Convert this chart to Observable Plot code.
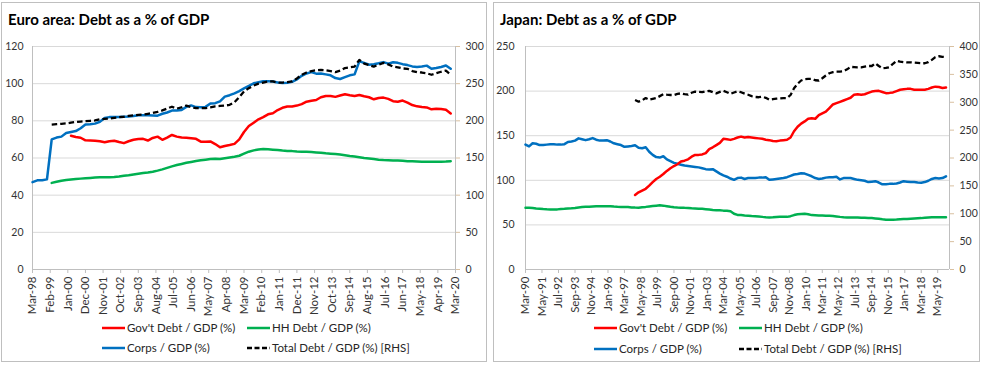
<!DOCTYPE html>
<html><head><meta charset="utf-8">
<script src="https://cdn.jsdelivr.net/npm/d3@7"></script>
<script src="https://cdn.jsdelivr.net/npm/@observablehq/plot@0.6"></script>
<style>
body{margin:0;background:#fff;}
#root{position:relative;width:988px;height:367px;font-family:Lato,"Open Sans",sans-serif;overflow:hidden;background:#fff}
.panel{position:absolute;border:1px solid #bfbfbf;box-sizing:border-box;}
.title{position:absolute;font-weight:bold;font-size:15px;line-height:15px;color:#000;white-space:nowrap}
.leg{position:absolute;font-size:11.5px;line-height:12px;color:#262626;display:flex;align-items:center;white-space:nowrap}
.leg svg{margin-right:2px}
</style></head><body><div id="root"></div><script>
// ---------------- Euro area (quarterly) ----------------
const euroTickLabels = ["Mar-98","Feb-99","Jan-00","Dec-00","Nov-01","Oct-02","Sep-03","Aug-04","Jul-05","Jun-06","May-07","Apr-08","Mar-09","Feb-10","Jan-11","Dec-11","Nov-12","Oct-13","Sep-14","Aug-15","Jul-16","Jun-17","May-18","Apr-19","Mar-20"];
const euroCorpsStart = "Mar-98";
const euroCorps = [
 47, 48, 48, 48.5, 70, 71, 71.5, 73.5, 74, 74.5,
 76, 78, 78.2, 78.5, 79.5, 81.5, 82, 82, 82, 82.2,
 82.3, 82.6, 83, 83, 83, 82.9, 82.8, 83.8, 84.5, 85.5,
 85.5, 85.8, 87.5, 88.3, 87.4, 87.3, 87.5, 89.3, 89.5, 90.5,
 93, 93.8, 94.8, 96, 97.5, 98.8, 100.2, 100.8, 101.3, 101.3,
 101.2, 100.6, 100.3, 100.5, 101, 102.3, 104.2, 105.5, 106.2, 105.4,
 105.5, 105, 104.5, 103, 102.5, 103.5, 104.5, 105, 112, 111.2,
 110.2, 110.5, 111, 111.6, 110.8, 111.5, 111.2, 110.5, 110, 109.3,
 109, 109.2, 109.7, 108, 108.4, 109, 109.8, 108];
const euroHHStart = "Mar-99";
const euroHH = [
 46.6, 47.2, 47.8, 48.1, 48.4, 48.7, 48.9, 49.1, 49.3, 49.5,
 49.6, 49.6, 49.7, 49.8, 50.1, 50.5, 50.7, 51.1, 51.5, 51.9,
 52.2, 52.6, 53.2, 53.9, 54.7, 55.5, 56.2, 56.8, 57.4, 57.9,
 58.4, 58.8, 59.1, 59.4, 59.6, 59.5, 59.9, 60.3, 60.7, 61.2,
 62.3, 63.4, 64.1, 64.6, 64.8, 64.7, 64.5, 64.3, 64, 63.8,
 63.7, 63.5, 63.4, 63.3, 63.2, 63, 62.8, 62.5, 62.3, 62.1,
 61.9, 61.5, 61.1, 60.8, 60.4, 60, 59.7, 59.4, 59.1, 58.9,
 58.8, 58.7, 58.6, 58.5, 58.3, 58.2, 58.1, 58, 58, 58,
 58, 58, 58.1, 58.3];
const euroGovStart = "Mar-00";
const euroGov = [
 72, 71.3, 70.9, 69.5, 69.4, 69.3, 69, 68.5, 69, 69.3,
 68.6, 68, 69, 69.8, 70.2, 70.3, 69.4, 70.8, 71.5, 69.8,
 71, 72.4, 71.5, 71, 70.9, 70.6, 70.3, 68.8, 68.7, 68.9,
 67.5, 65.8, 66.5, 67, 67.6, 70, 74, 77.2, 79, 80.8,
 82, 83.5, 84.1, 85.8, 87, 87.7, 87.7, 88.2, 89, 90.3,
 90.8, 91.2, 92.7, 93.4, 93.4, 92.9, 93.6, 94.3, 93.8, 93.4,
 93.9, 93.2, 92.7, 91.6, 92.3, 92.5, 91.8, 90.6, 90.3, 90.9,
 89.8, 88.5, 87.8, 87.4, 87.2, 86.2, 86.5, 86.4, 86, 84];
const euroTotalStart = "Mar-99";
const euroTotal = [
 195, 195.5, 196, 196.5, 197.5, 198.5, 199, 199.5, 200, 200.5,
 202, 202.5, 203, 204, 205, 205.5, 206.7, 207.5, 208, 208.5,
 209.5, 210.5, 212, 214, 216.5, 219, 216.5, 218, 220.5, 218.5,
 217, 217, 217, 218, 219.5, 220, 220.5, 221.5, 225, 232,
 239.5, 244, 247.5, 250, 251.5, 253, 253, 251.5, 251.5, 252,
 253, 257, 262, 265, 267, 268, 268.5, 268, 267, 265.5,
 267.5, 271, 272, 273, 282, 277, 275, 273, 275.5, 278,
 276, 273, 272, 270.5, 270, 267, 265.5, 265, 264, 262,
 264, 266, 267.5, 262];
const euroLeftTicks = [0, 20, 40, 60, 80, 100, 120];
const euroRightTicks = [0, 50, 100, 150, 200, 250, 300];

// ---------------- Japan (quarterly) ----------------
const japanTickLabels = ["Mar-90","May-91","Jul-92","Sep-93","Nov-94","Jan-96","Mar-97","May-98","Jul-99","Sep-00","Nov-01","Jan-03","Mar-04","May-05","Jul-06","Sep-07","Nov-08","Jan-10","Mar-11","May-12","Jul-13","Sep-14","Nov-15","Jan-17","Mar-18","May-19"];
const japanCorpsStart = "Mar-90";
const japanCorps = [
 140, 138, 141.5, 141, 139.5, 139.5, 140, 140.5, 140.5, 140,
 140, 140.5, 143, 143.5, 144.5, 147, 146, 145, 146, 147.3,
 145.5, 144.5, 144.5, 145, 143.5, 141.5, 140.5, 139.5, 137.5, 138,
 138.5, 139.3, 136.5, 136, 137, 132, 128.5, 126, 125.5, 127,
 123.5, 121.5, 119.5, 118.5, 117.5, 116.5, 116, 115.5, 115, 114.5,
 113.5, 112.5, 112, 112.5, 110, 107.5, 105.5, 104, 102, 100.5,
 102.5, 103, 101.5, 102.5, 102.5, 102.5, 103, 103, 103.5, 100.5,
 101, 101.5, 102, 102.5, 103.5, 105, 106.5, 107, 108, 107.5,
 106, 104.5, 102.5, 101.5, 102, 103, 103.5, 103.5, 104, 101,
 102.5, 102.5, 102.5, 101.5, 100.5, 100, 99.5, 98, 98.5, 99,
 97.5, 95.5, 95.5, 96, 96, 96.5, 97.5, 99, 98.5, 98,
 98, 97.5, 97.3, 98, 99.5, 101.5, 102.5, 102, 102.5, 104.5];
const japanHHStart = "Mar-90";
const japanHH = [
 69.3, 69.2, 69, 68.5, 68.2, 67.8, 67.5, 67.3, 67.2, 67.4,
 67.8, 68, 68.3, 68.6, 69, 69.6, 70, 70.4, 70.4, 70.6,
 70.8, 71, 71, 71, 70.8, 70.5, 70.3, 70.2, 70, 70,
 69.6, 69.4, 69.3, 69.8, 70.2, 70.7, 71.2, 71.6, 72, 71.6,
 71, 70.3, 69.8, 69.5, 69.3, 69.1, 69, 68.6, 68.4, 68.2,
 68, 67.6, 67.2, 66.8, 66.5, 66.3, 66, 65.8, 65.2, 62.5,
 61.2, 61, 60.6, 60.3, 60, 59.8, 59.5, 59, 58.6, 58.3,
 58.5, 58.8, 59, 59, 59, 59.8, 61, 61.9, 62.3, 62.6,
 62, 61, 60.8, 60.6, 60.5, 60.3, 60.2, 60, 59.5, 59,
 58.6, 58.3, 58.3, 58.3, 58.2, 58, 58, 57.8, 57.6, 57.3,
 56.8, 56.3, 55.9, 55.8, 55.8, 56, 56.3, 56.5, 56.7, 57,
 57.2, 57.4, 57.6, 58, 58.3, 58.5, 58.6, 58.6, 58.6, 58.6];
const japanGovStart = "Dec-97";
const japanGov = [
 83.5, 86.5, 88.5, 90.5, 94, 98, 101.5, 104, 107, 110.5,
 113.5, 116, 118, 121, 122, 123.5, 126.5, 128.5, 128.5, 129,
 130.5, 135, 137, 139.5, 142, 146.5, 146, 145.3, 146.5, 148,
 149, 148, 148.5, 148, 147.5, 147, 146.5, 145.5, 145, 144,
 143.8, 144.5, 145, 145.5, 148, 155, 160, 163.5, 166, 169,
 169.5, 169, 173, 175, 177, 181, 185, 186.5, 188, 189.5,
 191, 192.5, 196, 196.5, 196, 196.5, 198, 199.5, 200, 200.3,
 199, 197.7, 198, 198.5, 200, 201.5, 202, 202.5, 202.5, 201.5,
 201.5, 201.5, 201.5, 202.5, 204, 205, 204.5, 203.5, 204];
const japanTotalStart = "Dec-97";
const japanTotal = [
 304, 301, 303.5, 307.5, 304.5, 306, 307.5, 311, 314.5, 313.5,
 313, 313, 315, 316, 314.5, 313.5, 317, 319, 318.5, 318,
 319.5, 320.5, 318, 316, 318.5, 320.5, 318, 315, 317.5, 319.5,
 318, 315.5, 313.5, 311, 309.5, 309, 310, 308, 304.5, 305.5,
 306.5, 307, 307.5, 307.5, 313, 325, 333, 339, 341.5, 342,
 342, 339.5, 339, 343, 348, 352, 354, 355, 355, 355.5,
 359, 363.5, 363, 362.5, 362.5, 364, 365, 365, 370, 365,
 361, 361.5, 363, 369, 374.5, 373, 372, 371.5, 371.5, 371,
 370.5, 370, 370, 372, 376, 381, 382.5, 381.5, 381];
const japanLeftTicks = [0, 50, 100, 150, 200, 250];
const japanRightTicks = [0, 50, 100, 150, 200, 250, 300, 350, 400];

const legendNames = ["Gov't Debt / GDP (%)", "HH Debt / GDP (%)", "Corps / GDP (%)", "Total Debt / GDP (%) [RHS]"];
const colors = {gov: "#ff0000", hh: "#00b050", corps: "#0070c0", total: "#000000"};

// ---------------- helpers ----------------
const parse = d3.utcParse("%b-%y");
const fmt = d3.utcFormat("%b-%y");
function quarterly(start, values) {
  const s = parse(start);
  return values.map((v, i) => ({date: d3.utcMonth.offset(s, 3 * i), value: v}));
}

function panelPlot(cfg) {
  const f = cfg.leftMax / cfg.rightMax;
  const grid = cfg.leftTicks.filter(d => d > 0);
  const tickDates = cfg.tickLabels.map(parse);
  return Plot.plot({
    width: cfg.width, height: cfg.height,
    marginLeft: cfg.mL, marginRight: cfg.mR, marginTop: cfg.mT, marginBottom: cfg.height - 269,
    x: {type: "utc", domain: cfg.xDomain.map(parse)},
    y: {domain: [0, cfg.leftMax]},
    style: {fontFamily: "Lato, 'Open Sans', sans-serif", color: "#333333", background: "transparent", overflow: "visible"},
    marks: [
      Plot.ruleY(grid, {stroke: "#d9d9d9", strokeWidth: 1}),
      Plot.ruleY([0], {stroke: "#bfbfbf", strokeWidth: 1}),
      Plot.ruleX([parse(cfg.xDomain[0])], {stroke: "#bfbfbf", strokeWidth: 1}),
      Plot.ruleX([parse(cfg.xDomain[1])], {stroke: "#bfbfbf", strokeWidth: 1}),
      Plot.axisY(cfg.leftTicks, {anchor: "left", tickSize: 0, tickPadding: cfg.padL, fontSize: 10.5, label: null, tickFormat: d => d}),
      Plot.axisY(cfg.rightTicks.map(t => t * f), {anchor: "right", tickSize: 4, tickPadding: 6, stroke: "#d9c0a0", fontSize: 10.5, label: null, tickFormat: p => Math.round(p / f)}),
      Plot.axisX(tickDates, {tickFormat: fmt, tickRotate: -90, tickSize: 4, tickPadding: 3, stroke: "#bfbfbf", fontSize: 11.5, label: null}),
      Plot.line(quarterly(cfg.hhStart, cfg.hh), {x: "date", y: "value", stroke: colors.hh, strokeWidth: 2.5}),
      Plot.line(quarterly(cfg.corpsStart, cfg.corps), {x: "date", y: "value", stroke: colors.corps, strokeWidth: 2.5}),
      Plot.line(quarterly(cfg.govStart, cfg.gov), {x: "date", y: "value", stroke: colors.gov, strokeWidth: 2.5}),
      Plot.line(quarterly(cfg.totalStart, cfg.total), {x: "date", y: d => d.value * f, stroke: colors.total, strokeWidth: 2.3, strokeDasharray: "5.5,3", strokeLinecap: "butt"})
    ]
  });
}

const root = document.getElementById("root");
function addDiv(cls, css, html) {
  const d = document.createElement("div");
  d.className = cls; Object.assign(d.style, css); if (html != null) d.innerHTML = html;
  root.appendChild(d); return d;
}
function sample(color, dashed) {
  return `<svg width="23" height="4"><line x1="0" x2="23" y1="2" y2="2" stroke="${color}" stroke-width="2.5" ${dashed ? 'stroke-dasharray="5,2.5"' : ''}/></svg>`;
}
function legend(x1, x2, y1, y2) {
  addDiv("leg", {left: x1 + "px", top: (y1 - 6) + "px"}, sample(colors.gov) + legendNames[0]);
  addDiv("leg", {left: x2 + "px", top: (y1 - 6) + "px"}, sample(colors.hh) + legendNames[1]);
  addDiv("leg", {left: x1 + "px", top: (y2 - 6) + "px"}, sample(colors.corps) + legendNames[2]);
  addDiv("leg", {left: x2 + "px", top: (y2 - 6) + "px"}, sample(colors.total, true) + legendNames[3]);
}

// panels
addDiv("panel", {left: "1px", top: "2px", width: "486px", height: "360px"});
addDiv("panel", {left: "493px", top: "2px", width: "487px", height: "360px"});

const p1 = panelPlot({
  width: 488, height: 320, mL: 32, mR: 33, mT: 46, padL: 9,
  xDomain: ["Mar-98", "Mar-20"], leftMax: 120, rightMax: 300,
  leftTicks: euroLeftTicks, rightTicks: euroRightTicks, tickLabels: euroTickLabels,
  corpsStart: euroCorpsStart, corps: euroCorps, hhStart: euroHHStart, hh: euroHH,
  govStart: euroGovStart, gov: euroGov, totalStart: euroTotalStart, total: euroTotal
});
p1.style.position = "absolute"; p1.style.left = "0px"; p1.style.top = "0px";
root.appendChild(p1);

const p2 = panelPlot({
  width: 490, height: 320, mL: 35, mR: 31, mT: 46, padL: 11,
  xDomain: ["Mar-90", "Mar-20"], leftMax: 250, rightMax: 400,
  leftTicks: japanLeftTicks, rightTicks: japanRightTicks, tickLabels: japanTickLabels,
  corpsStart: japanCorpsStart, corps: japanCorps, hhStart: japanHHStart, hh: japanHH,
  govStart: japanGovStart, gov: japanGov, totalStart: japanTotalStart, total: japanTotal
});
p2.style.position = "absolute"; p2.style.left = "490px"; p2.style.top = "0px";
root.appendChild(p2);

addDiv("title", {left: "8px", top: "12px"}, "Euro area: Debt as a % of GDP");
addDiv("title", {left: "500px", top: "12px"}, "Japan: Debt as a % of GDP");

legend(102, 247, 328, 348);
legend(594, 739, 328, 349);
</script></body></html>
